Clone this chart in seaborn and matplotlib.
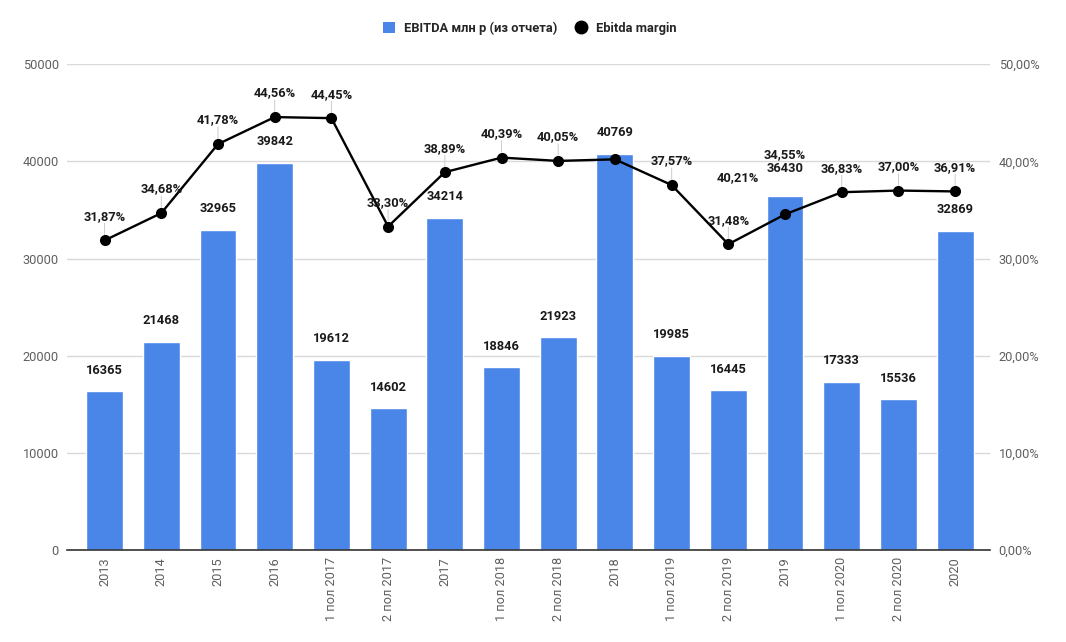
import matplotlib
matplotlib.use('Agg')
import matplotlib.pyplot as plt
import seaborn as sns
import pandas as pd
from matplotlib.lines import Line2D
from matplotlib.patches import Patch
from matplotlib.ticker import FuncFormatter

# --- data ---
periods = ['2013', '2014', '2015', '2016', '1 пол 2017', '2 пол 2017', '2017',
           '1 пол 2018', '2 пол 2018', '2018', '1 пол 2019', '2 пол 2019', '2019',
           '1 пол 2020', '2 пол 2020', '2020']
ebitda = [16365, 21468, 32965, 39842, 19612, 14602, 34214,
          18846, 21923, 40769, 19985, 16445, 36430,
          17333, 15536, 32869]
margin = [31.87, 34.68, 41.78, 44.56, 44.45, 33.30, 38.89,
          40.39, 40.05, 40.21, 37.57, 31.48, 34.55,
          36.83, 37.00, 36.91]

BLUE = '#4a86e8'
GRID = '#d9d9d9'
TICK = '#5f5f5f'

sns.set_theme(style='white')
plt.rcParams['font.family'] = ['Roboto', 'DejaVu Sans']

df = pd.DataFrame({'period': periods, 'ebitda': ebitda, 'margin': margin})

fig = plt.figure(figsize=(10.66, 6.42), dpi=100)
ax = fig.add_axes([0.063, 0.143, 0.866, 0.757])

sns.barplot(data=df, x='period', y='ebitda', color=BLUE, width=0.65,
            saturation=1, ax=ax, zorder=2)
ax.set_ylim(0, 50000)
ax.set_xlim(-0.66, 15.62)
ax.set_yticks(range(0, 50001, 10000))
ax.yaxis.grid(True, color=GRID, linewidth=1)
ax.set_axisbelow(True)
ax.set_xlabel('')
ax.set_ylabel('')
for s in ['top', 'right', 'left']:
    ax.spines[s].set_visible(False)
ax.spines['bottom'].set_color('#333333')
ax.spines['bottom'].set_linewidth(1.2)
ax.spines['bottom'].set_zorder(5)
ax.tick_params(axis='y', length=0, pad=6, labelsize=9.2, labelcolor=TICK)
ax.tick_params(axis='x', length=0, pad=5, labelsize=9.2, labelcolor=TICK,
               labelrotation=90)

# bar value labels (pixel offsets above bar tops)
bar_dy = [21] * len(ebitda)
bar_dy[12] = 28
for i, v in enumerate(ebitda):
    ax.annotate(str(v), (i, v), xytext=(0, bar_dy[i]), textcoords='offset pixels',
                ha='center', va='center', fontsize=9.3, fontweight='bold',
                color='#1a1a1a', zorder=6)

# margin line on the secondary axis
ax2 = ax.twinx()
sns.lineplot(x=list(range(len(margin))), y=margin, ax=ax2, color='black',
             linewidth=1.7, marker='o', markersize=8, markeredgewidth=0, zorder=4)
ax2.set_ylim(0, 50)
ax2.set_xlim(-0.66, 15.62)
ax2.set_yticks(range(0, 51, 10))
ax2.yaxis.set_major_formatter(FuncFormatter(lambda v, p: f'{v:.2f}'.replace('.', ',') + '%'))
for s in ['top', 'right', 'left', 'bottom']:
    ax2.spines[s].set_visible(False)
ax2.tick_params(axis='y', length=0, pad=6, labelsize=9.2, labelcolor=TICK)
ax2.set_ylabel('')

# margin labels: default 24 px above the point, a couple are shifted
offsets = [(0, 24)] * len(margin)
offsets[9] = (123, -18)
offsets[12] = (0, 60)
for i, v in enumerate(margin):
    dx, dy = offsets[i]
    txt = f'{v:.2f}'.replace('.', ',') + '%'
    ax2.annotate(txt, (i, v), xytext=(dx, dy), textcoords='offset pixels',
                 ha='center', va='center', fontsize=9.3, fontweight='bold',
                 color='#1a1a1a', zorder=6)
    if dx == 0 and dy == 24:
        ax2.annotate('', (i, v), xytext=(0, 17), textcoords='offset pixels',
                     arrowprops=dict(arrowstyle='-', color='#cccccc', lw=0.7,
                                     shrinkA=0, shrinkB=4))

# legend
handles = [Patch(facecolor=BLUE, edgecolor='none'),
           Line2D([], [], color='black', marker='o', linestyle='none', markersize=9)]
fig.legend(handles, ['EBITDA млн р (из отчета)', 'Ebitda margin'],
           loc='center', bbox_to_anchor=(0.497, 0.956), ncol=2, frameon=False,
           handlelength=0.9, handleheight=0.9, handletextpad=0.7, columnspacing=1.4,
           prop={'weight': 'bold', 'size': 9.3})

fig.savefig('out.png', dpi=100, facecolor='white')
